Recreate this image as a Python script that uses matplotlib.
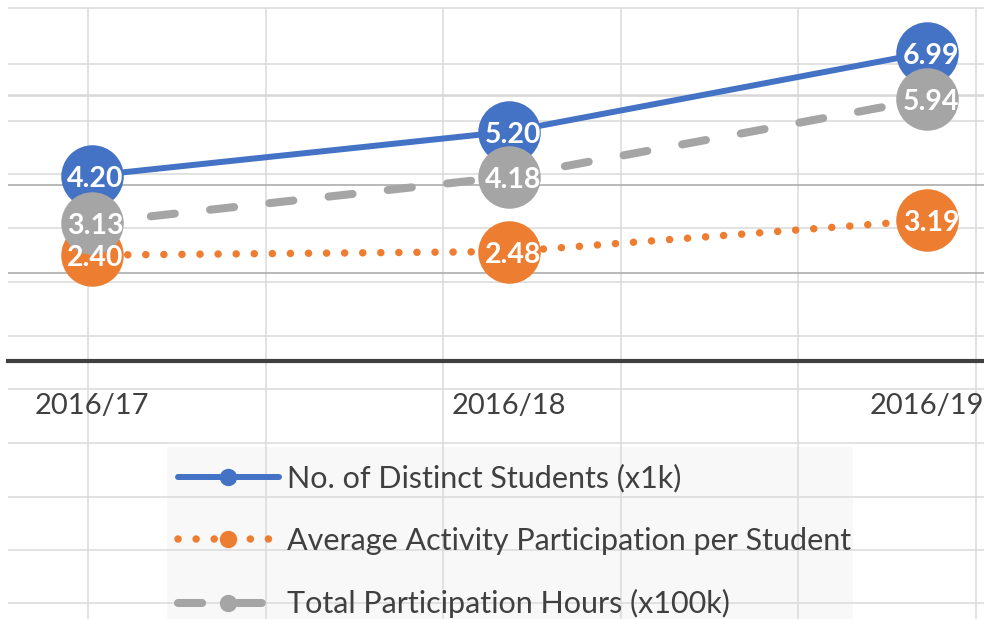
import matplotlib
matplotlib.use("Agg")
import matplotlib.pyplot as plt
from matplotlib.lines import Line2D
from matplotlib.patches import Rectangle
from matplotlib.transforms import Bbox, TransformedBbox, offset_copy
import numpy as np

plt.rcParams['font.family'] = ['Lato', 'DejaVu Sans']

# ---------------- data ----------------
years = ["2016/17", "2016/18", "2016/19"]
students = [4.20, 5.20, 6.99]
avg_participation = [2.40, 2.48, 3.19]
hours = [3.13, 4.18, 5.94]
series_names = ["No. of Distinct Students (x1k)",
                "Average Activity Participation per Student",
                "Total Participation Hours (x100k)"]
series_values = [students, avg_participation, hours]
grid_levels = [2, 4, 6]

# ---------------- style ----------------
colors = ["#4472C4", "#ED7D31", "#A5A5A5"]
linewidths = [4.3, 5.4, 5.8]
linestyles = ["-", (0, (0.01, 2.4)), (0, (3.0, 4.4))]
grid_colors = ["#a6a6a6", "#a6a6a6", "#d4d4d4"]
text_color = "#404040"
sheet_color = "#dadada"
MS = 45          # marker size (points)
W, H, DPI = 984, 619, 100

fig = plt.figure(figsize=(W / DPI, H / DPI), dpi=DPI)
fig.patch.set_facecolor("white")

# ---- background: spreadsheet cell grid & legend panel (pixel layout) ----
bg = fig.add_axes([0, 0, 1, 1], zorder=0)
bg.set_xlim(0, W)
bg.set_ylim(H, 0)
bg.axis("off")
sheet_cols = [88, 266, 443, 621, 798, 976]
sheet_rows = [8, 64, 95, 121, 174, 228, 282, 336, 389, 443, 497, 550, 603]
bg.add_patch(Rectangle((167, 447), 853 - 167, H - 447, facecolor="#f8f8f8",
                       edgecolor="none", zorder=0.5))
for xc in sheet_cols:
    bg.plot([xc, xc], [8, H], color=sheet_color, lw=1.1, zorder=1,
            solid_capstyle="butt")
for yr in sheet_rows:
    bg.plot([8, W], [yr, yr], color=sheet_color, lw=1.1, zorder=1,
            solid_capstyle="butt")

# ---------------- chart ----------------
ax = fig.add_axes([8 / W, (H - 361) / H, (W - 8) / W, (361 - 8) / H], zorder=2)
ax.patch.set_alpha(0)
x = np.arange(len(years))
ax.set_xlim(-0.2, 2.136)
ax.set_ylim(0, 8)

for lvl, gc in zip(grid_levels, grid_colors):
    ax.axhline(lvl, color=gc, lw=1.1, zorder=1)

for i, (vals, c, lw, ls) in enumerate(zip(series_values, colors, linewidths, linestyles)):
    ax.plot(x, vals, color=c, lw=lw, linestyle=ls, marker="o", ms=MS,
            mec="none", mfc=c, dash_capstyle="round", solid_capstyle="round",
            zorder=3 + i)

# data labels, clipped at the right edge of the marker like the original
r_px = MS * DPI / 72 / 2
px_per_unit = (W - 8) / (2.136 + 0.2)
r_data = r_px / px_per_unit
lab_tr = offset_copy(ax.transData, fig=fig, x=4, y=-3, units="dots")
for vals in series_values:
    for xi, v in zip(x, vals):
        t = ax.text(xi, v, f"{v:.2f}", transform=lab_tr, ha="center", va="center",
                    color="white", fontweight="bold", fontsize=20.5, zorder=10)
        t.set_clip_box(TransformedBbox(Bbox([[xi - 1, v - 2], [xi + r_data, v + 2]]),
                                       ax.transData))
        t.set_clip_on(True)

for s in ["top", "left", "right"]:
    ax.spines[s].set_visible(False)
ax.spines["bottom"].set_color(text_color)
ax.spines["bottom"].set_linewidth(3)
ax.spines["bottom"].set_zorder(2)
ax.set_yticks([])
ax.set_xticks(x, years)
ax.tick_params(axis="x", length=0, pad=23, labelsize=21, labelcolor=text_color)

# ---------------- legend ----------------
handles = [Line2D([], [], color=c, lw=lw, linestyle=ls, marker="o", ms=12.5,
                  mec="none", dash_capstyle="round", solid_capstyle="round")
           for c, lw, ls in zip(colors, linewidths, linestyles)]
fig.legend(handles, series_names, loc="upper left",
           bbox_to_anchor=(178 / W, 1 - 464 / H), frameon=False,
           borderpad=0, borderaxespad=0, fontsize=22, labelcolor=text_color,
           handlelength=3.3, handletextpad=0.27, labelspacing=1.12)

fig.savefig("out.png", dpi=DPI)
